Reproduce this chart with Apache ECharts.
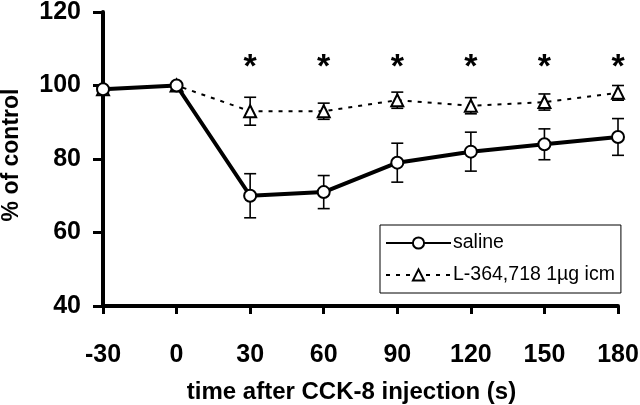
<!DOCTYPE html>
<html><head><meta charset="utf-8">
<script src="https://cdn.jsdelivr.net/npm/echarts@6/dist/echarts.min.js"></script>
<style>html,body{margin:0;padding:0;background:#fff}#c{width:640px;height:405px}</style>
</head><body><div id="c"></div>
<script>
var times = [-30, 0, 30, 60, 90, 120, 150, 180];
var salineMean = [99, 100, 70, 71, 79, 82, 84, 86];
var salineErr  = [0, 0, 6, 4.5, 5.3, 5.3, 4.2, 5];
var drugMean   = [99, 100, 93, 93, 96, 94.5, 95.5, 98];
var drugErr    = [0, 0, 3.8, 2.2, 2.2, 2.2, 2.2, 2];
var starTimes  = [30, 60, 90, 120, 150, 180];
var starY      = [105, 105, 105, 105, 105, 105];
var xTicks = [-30, 0, 30, 60, 90, 120, 150, 180];
var yTicks = [40, 60, 80, 100, 120];
var seriesNames = ['saline', 'L-364,718 1\u00b5g icm'];

function pairs(xs, ys){ return xs.map(function(x,i){return [x, ys[i]];}); }
function errData(xs, m, e){ return xs.map(function(x,i){return [x, m[i]-e[i], m[i]+e[i]];}).filter(function(d){return d[2]-d[1]>0;}); }

function errRender(params, api){
  var x = api.value(0);
  var lo = api.coord([x, api.value(1)]);
  var hi = api.coord([x, api.value(2)]);
  var w = 6;
  var st = {stroke:'#000', lineWidth:1.6};
  return {type:'group', children:[
    {type:'line', shape:{x1:lo[0],y1:lo[1],x2:hi[0],y2:hi[1]}, style:st},
    {type:'line', shape:{x1:lo[0]-w,y1:lo[1],x2:lo[0]+w,y2:lo[1]}, style:st},
    {type:'line', shape:{x1:hi[0]-w,y1:hi[1],x2:hi[0]+w,y2:hi[1]}, style:st}
  ]};
}
function starRender(params, api){
  var p = api.coord([api.value(0), api.value(1)]);
  return {type:'text', x:p[0], y:p[1], style:{text:'*', fill:'#000', font:'bold 34px "Liberation Sans", Arial, sans-serif', align:'center', verticalAlign:'middle'}};
}

var chart = echarts.init(document.getElementById('c'), null, {renderer:'canvas'});
var fontFam = '"Liberation Sans", Arial, sans-serif';
chart.setOption({
  animation:false,
  backgroundColor:'#fff',
  grid:{left:103, right:22, top:12, bottom:99, containLabel:false, outerBoundsMode:'none'},
  xAxis:{type:'value', min:xTicks[0], max:xTicks[xTicks.length-1], interval:30,
    name:'time after CCK-8 injection (s)', nameLocation:'middle', nameGap:74,
    nameTextStyle:{fontFamily:fontFam, fontWeight:'bold', fontSize:24, color:'#000', padding:[0,18,0,0]},
    axisLine:{onZero:false, lineStyle:{color:'#000', width:4}},
    axisTick:{inside:false, length:8, lineStyle:{color:'#000', width:3}},
    axisLabel:{fontFamily:fontFam, fontWeight:'bold', fontSize:25, color:'#000', margin:37},
    splitLine:{show:false}},
  yAxis:{type:'value', min:yTicks[0], max:yTicks[yTicks.length-1], interval:20,
    name:'% of control', nameLocation:'middle', nameGap:80,
    nameTextStyle:{fontFamily:fontFam, fontWeight:'bold', fontSize:23, color:'#000', padding:[0,0,0,8]},
    axisLine:{onZero:false, lineStyle:{color:'#000', width:4}},
    axisTick:{inside:false, length:10, lineStyle:{color:'#000', width:3}},
    axisLabel:{fontFamily:fontFam, fontWeight:'bold', fontSize:25, color:'#000', margin:22},
    splitLine:{show:false}},
  legend:{left:380, top:225, orient:'vertical', padding:[8,6,8,5], itemGap:12,
    itemWidth:65, itemHeight:14,
    borderColor:'#000', borderWidth:1, borderRadius:0, backgroundColor:'#fff',
    textStyle:{fontFamily:fontFam, fontSize:19.5, color:'#000', padding:[0,0,0,-3]},
    data:seriesNames},
  series:[
    {type:'custom', name:'errS', renderItem:errRender, data:errData(times, salineMean, salineErr), z:1, silent:true},
    {type:'custom', name:'errD', renderItem:errRender, data:errData(times, drugMean, drugErr), z:1, silent:true},
    {type:'line', name:seriesNames[1], data:pairs(times, drugMean), z:3,
      lineStyle:{color:'#000', width:2, type:[4,6]},
      symbol:'triangle', symbolSize:12, showAllSymbol:true,
      itemStyle:{color:'#fff', borderColor:'#000', borderWidth:2}},
    {type:'line', name:seriesNames[0], data:pairs(times, salineMean), z:4,
      lineStyle:{color:'#000', width:4},
      symbol:'circle', symbolSize:12, showAllSymbol:true,
      itemStyle:{color:'#fff', borderColor:'#000', borderWidth:2}},
    {type:'custom', name:'stars', renderItem:starRender, data:pairs(starTimes, starY), z:5, silent:true}
  ]
});
</script></body></html>
